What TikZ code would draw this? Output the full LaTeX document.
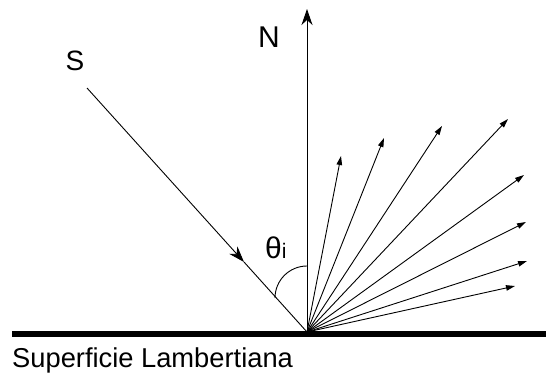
\documentclass[tikz,border=0pt]{standalone}
\usepackage{fontspec}
\setmainfont{Liberation Sans}
\usetikzlibrary{arrows.meta}
\begin{document}
\begin{tikzpicture}[x=1pt,y=-1pt,
  ray/.style={line width=0.9pt,-{Triangle[length=9pt,width=5.5pt]}},
  bigtip/.style={line width=0.9pt,-{Stealth[length=16pt,width=11pt,inset=5pt]}},
  lbl/.style={inner sep=0pt,anchor=base}]
\useasboundingbox (0,0) rectangle (546,375);
\coordinate (O) at (307,332);
\coordinate (S0) at (87,88);
\coordinate (M) at (244,262);
\coordinate (Ntip) at (307,9);
% surface
\draw[line width=5.5pt] (12,334) -- (546,334);
\node[inner sep=0pt,anchor=base west,font=\fontsize{27.3}{27.3}\selectfont] (surf) at (12,367) {Superficie Lambertiana};
% normal
\draw[bigtip] (O) -- (Ntip);
\node[lbl,font=\fontsize{30}{30}\selectfont] (N) at (269,47) {N};
% incident
\draw[bigtip] (S0) -- (M);
\draw[line width=0.9pt] (M) -- (O);
\node[lbl,font=\fontsize{28}{28}\selectfont] (S) at (75,70) {S};
% angle
\draw[line width=0.9pt] (307,266) arc[start angle=-90,end angle=-180,radius=32];
\node[inner sep=0pt,anchor=base west] (th) at (265,258) {\fontsize{30}{30}\selectfont θ\fontsize{21}{21}\selectfont i};
% reflected fan
\coordinate (r1) at (341,156);
\coordinate (r2) at (384,138);
\coordinate (r3) at (442,126);
\coordinate (r4) at (508,119);
\coordinate (r5) at (524,175);
\coordinate (r6) at (526,222);
\coordinate (r7) at (527,261);
\coordinate (r8) at (515,286);
\foreach \r in {r1,r2,r3,r4,r5,r6,r7,r8}{\draw[ray] (O) -- (\r);}
\end{tikzpicture}
\end{document}
